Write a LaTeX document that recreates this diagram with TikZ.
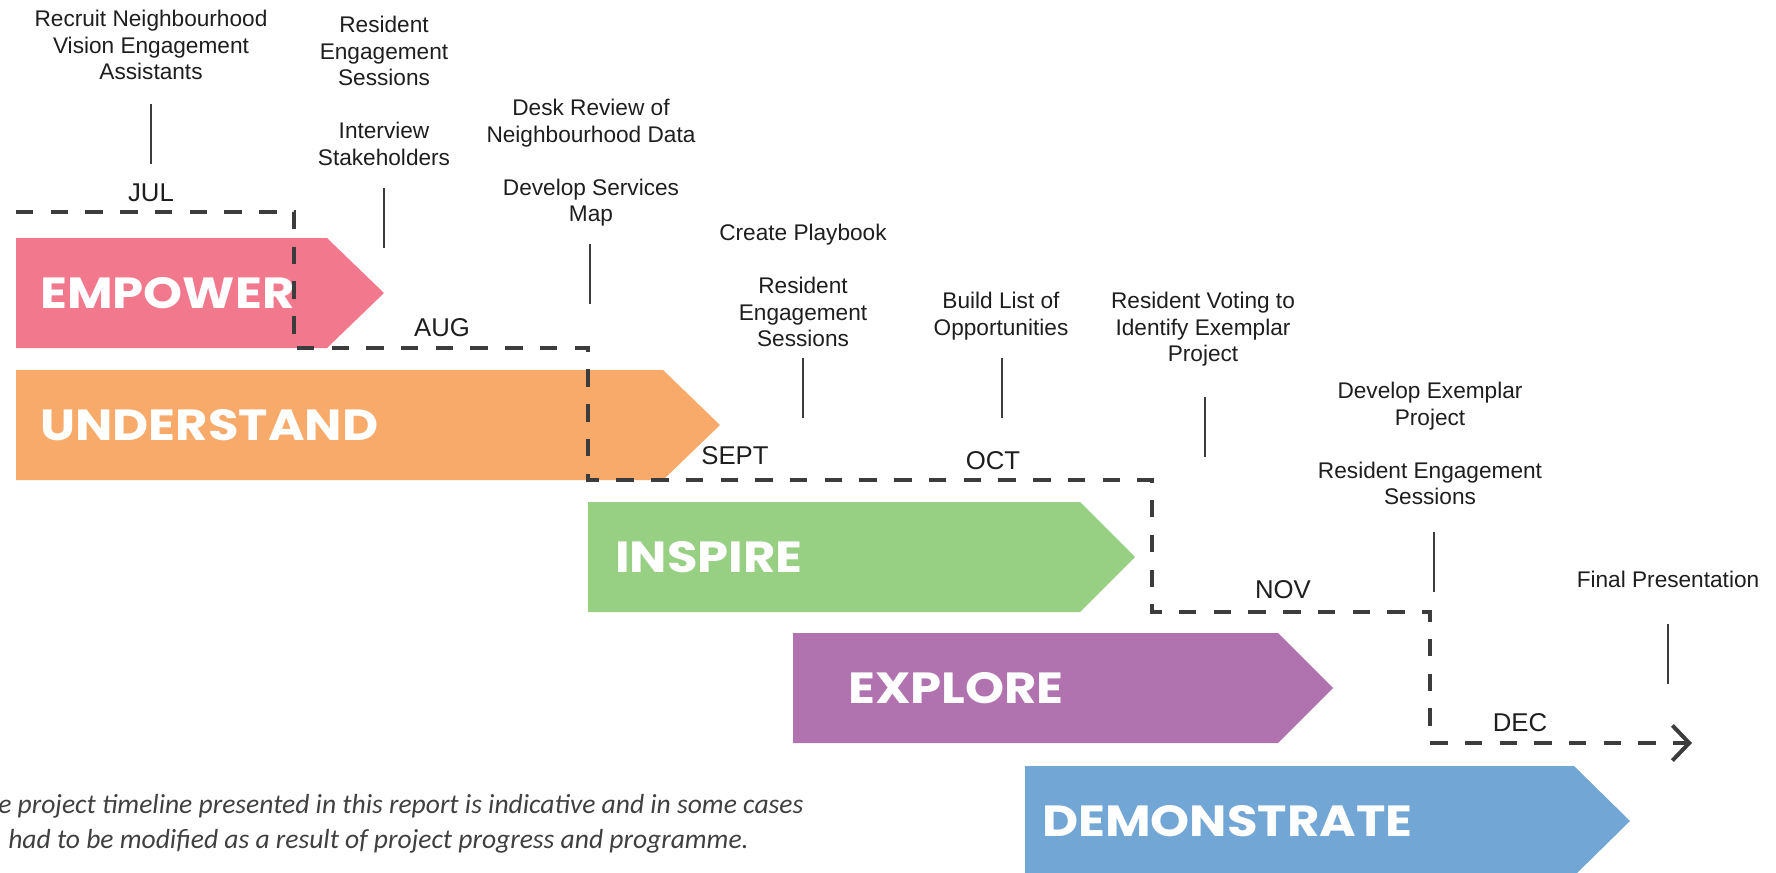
\documentclass[tikz,border=0pt]{standalone}
\usepackage{fontspec}
\setmainfont{Liberation Sans}
\newfontfamily\phasefont{Poppins}[FakeStretch=1.14]
\newfontfamily\notefont{Carlito}
\usepackage{xcolor}
\usepackage{tikz}
\usetikzlibrary{arrows.meta}

\definecolor{empowercol}{HTML}{F2798D}
\definecolor{understandcol}{HTML}{F7AA6A}
\definecolor{inspirecol}{HTML}{97CF83}
\definecolor{explorecol}{HTML}{B173AF}
\definecolor{demonstratecol}{HTML}{72A6D5}
\definecolor{linecol}{HTML}{3C3C3C}
\definecolor{textcol}{HTML}{1E1E1E}

\tikzset{
  phase/.style={anchor=west, inner sep=0pt, text=white, font=\phasefont\bfseries\fontsize{31}{31}\selectfont},
  task/.style={anchor=north, align=center, inner sep=0pt, text=textcol, font=\fontsize{16.1}{18.85}\selectfont},
  month/.style={inner sep=0pt, text=textcol, font=\fontsize{18.3}{20}\selectfont},
  tick/.style={draw=linecol, line width=1.4pt},
  timeline/.style={draw=linecol, line width=2.85pt, dash pattern=on 12.4pt off 12.3pt, -{Straight Barb[length=12pt,width=25pt]}},
  note/.style={anchor=base west, inner sep=0pt, text=textcol!85, font=\notefont\itshape\fontsize{19.6}{24}\selectfont}
}

\begin{document}
\begin{tikzpicture}[x=0.025cm,y=-0.025cm]
  \useasboundingbox (0,0) rectangle (1776,873);
  \clip (0,0) rectangle (1776,873);

  % Pfeile
  \fill[empowercol] (16,238) -- (327,238) -- (384,293) -- (327,348) -- (16,348) -- cycle;
  \fill[understandcol] (16,370) -- (663,370) -- (720,425) -- (663,480) -- (16,480) -- cycle;
  \fill[inspirecol] (588,502) -- (1080,502) -- (1135,557) -- (1080,612) -- (588,612) -- cycle;
  \fill[explorecol] (793,633) -- (1278,633) -- (1333,688) -- (1278,743) -- (793,743) -- cycle;
  \fill[demonstratecol] (1025,766) -- (1574,766) -- (1630,821) -- (1574,876) -- (1025,876) -- cycle;

  % Phasen
  \node[phase] (empower) at (40,293) {EMPOWER};
  \node[phase] (understand) at (40,425) {UNDERSTAND};
  \node[phase] (inspire) at (615,557) {INSPIRE};
  \node[phase] (explore) at (848,688) {EXPLORE};
  \node[phase] (demonstrate) at (1042,821) {DEMONSTRATE};

  % Zeitachse
  \draw[timeline] (16,212) -- (294,212) -- (294,348) -- (588,348) -- (588,480) -- (1152,480)
    -- (1152,612) -- (1430,612) -- (1430,743) -- (1692,743);

  % Monate
  \node[month] (jul) at (151,193) {JUL};
  \node[month] (aug) at (442,328) {AUG};
  \node[month] (sept) at (735,456) {SEPT};
  \node[month] (oct) at (993,461) {OCT};
  \node[month] (nov) at (1283,590) {NOV};
  \node[month] (dec) at (1520,723) {DEC};

  % Aufgaben
  \node[task] (recruit) at (151,10) {Recruit Neighbourhood\\Vision Engagement\\Assistants};
  \node[task] (interview) at (384,16) {Resident\\Engagement\\Sessions\\[18.85pt]Interview\\Stakeholders};
  \node[task] (review) at (591,99) {Desk Review of\\Neighbourhood Data\\[18.85pt]Develop Services\\Map};
  \node[task] (playbook) at (803,224) {Create Playbook\\[18.85pt]Resident\\Engagement\\Sessions};
  \node[task] (opportunities) at (1001,292) {Build List of\\Opportunities};
  \node[task] (voting) at (1203,292) {Resident Voting to\\Identify Exemplar\\Project};
  \node[task] (exemplar) at (1430,382) {Develop Exemplar\\Project\\[18.85pt]Resident Engagement\\Sessions};
  \node[task] (final) at (1668,571) {Final Presentation};

  % Striche
  \draw[tick] (151,104) -- ++(0,60);
  \draw[tick] (384,188) -- ++(0,60);
  \draw[tick] (590,244) -- ++(0,60);
  \draw[tick] (803,358) -- ++(0,60);
  \draw[tick] (1002,358) -- ++(0,60);
  \draw[tick] (1205,397) -- ++(0,60);
  \draw[tick] (1434,532) -- ++(0,60);
  \draw[tick] (1668,624) -- ++(0,60);

  % Hinweis
  \node[note] (note1) at (-2,813) {e project timeline presented in this report is indicative and in some cases};
  \node[note] (note2) at (8,848) {had to be modified as a result of project progress and programme.};
\end{tikzpicture}
\end{document}
